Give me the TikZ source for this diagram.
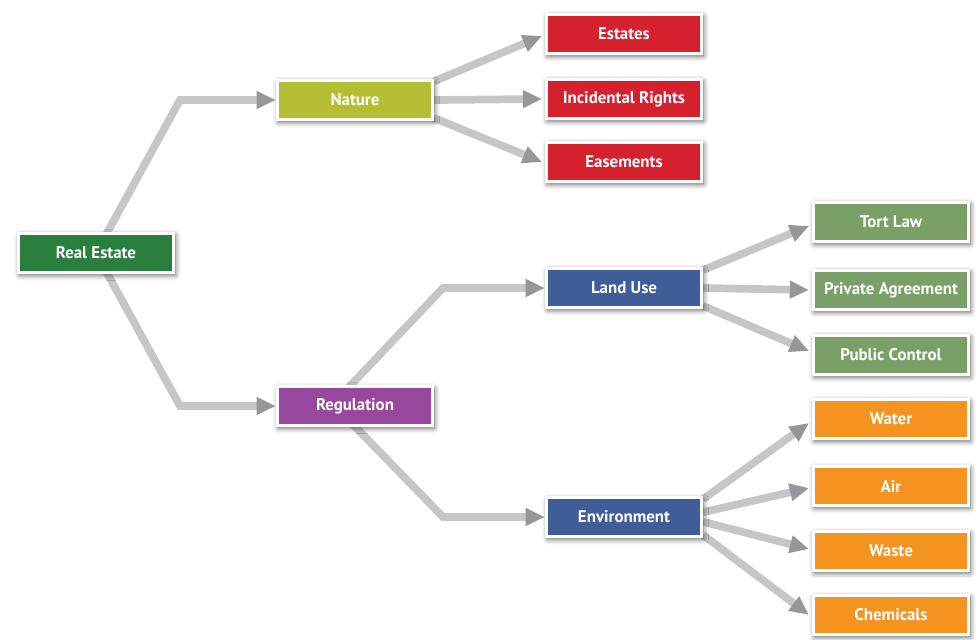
\documentclass[tikz,border=0pt]{standalone}
\usepackage{fontspec}
\setmainfont{PT Sans}
\usetikzlibrary{arrows.meta,backgrounds,shadows.blur}
\definecolor{reGreen}{RGB}{42,127,62}
\definecolor{natOlive}{RGB}{181,189,51}
\definecolor{estRed}{RGB}{213,32,46}
\definecolor{useBlue}{RGB}{63,94,151}
\definecolor{regPurple}{RGB}{152,72,156}
\definecolor{lawGreen}{RGB}{122,160,104}
\definecolor{envOrange}{RGB}{244,147,32}
\definecolor{linkgrey}{RGB}{198,198,200}
\definecolor{tipgrey}{RGB}{150,151,154}

\begin{document}
\begin{tikzpicture}[x=0.025cm,y=-0.025cm]

%
% Styles
%
\tikzstyle{box}  = [rectangle,draw=white,line width=2.2pt,minimum width=3.88cm,minimum height=0.98cm,
                    text=white,font=\fontsize{12}{14}\selectfont\bfseries,
                    blur shadow={shadow xshift=1pt,shadow yshift=-1.5pt,shadow blur radius=4pt,shadow opacity=70}]
\tikzstyle{link} = [-{Triangle[length=0.48cm,width=0.42cm,color=tipgrey]},line width=5.5pt,draw=linkgrey]

\useasboundingbox (0,0) rectangle (979,639);

\node[box,fill=reGreen]   (re)  at (96,253)  {Real Estate};
\node[box,fill=natOlive]  (nat) at (355,100) {Nature};
\node[box,fill=regPurple] (reg) at (355,406) {Regulation};

\node[box,fill=estRed] (est) at (624,34)  {Estates};
\node[box,fill=estRed] (inc) at (624,99)  {Incidental Rights};
\node[box,fill=estRed] (eas) at (624,162) {Easements};

\node[box,fill=useBlue] (lu)  at (624,288) {Land Use};
\node[box,fill=useBlue] (env) at (624,517) {Environment};

\node[box,fill=lawGreen] (tort) at (891,222) {Tort Law};
\node[box,fill=lawGreen] (pa)   at (891,290) {Private Agreement};
\node[box,fill=lawGreen] (pc)   at (891,355) {Public Control};

\node[box,fill=envOrange] (wat) at (891,419) {Water};
\node[box,fill=envOrange] (air) at (891,486) {Air};
\node[box,fill=envOrange] (was) at (891,551) {Waste};
\node[box,fill=envOrange] (chm) at (891,615) {Chemicals};

\begin{pgfonlayer}{background}
% elbows
\draw[link] (re.center) -- (180,100) -- (nat.west);
\draw[link] (re.center) -- (180,406) -- (reg.west);
\draw[link] ([xshift=-0.6cm]reg.center) -- (443,288) -- (lu.west);
\draw[link] ([xshift=-0.5cm]reg.center) -- (443,517) -- (env.west);
% fans
\draw[link] ([yshift=0.47cm]nat.east)  -- ([xshift=-2pt,yshift=-0.05cm]est.west);
\draw[link] (nat.east)                 -- ([xshift=-2pt]inc.west);
\draw[link] ([yshift=-0.45cm]nat.east) -- ([xshift=-2pt]eas.west);
\draw[link] ([yshift=0.45cm]lu.east)   -- ([xshift=-2pt,yshift=-0.1cm]tort.west);
\draw[link] (lu.east)                  -- ([xshift=-2pt]pa.west);
\draw[link] ([yshift=-0.45cm]lu.east)  -- ([xshift=-2pt,yshift=0.1cm]pc.west);
\draw[link] ([yshift=0.45cm]env.east)  -- ([xshift=-2pt,yshift=-0.1cm]wat.west);
\draw[link] ([yshift=0.12cm]env.east)  -- ([xshift=-2pt,yshift=-0.05cm]air.west);
\draw[link] ([yshift=-0.12cm]env.east) -- ([xshift=-2pt,yshift=0.05cm]was.west);
\draw[link] ([yshift=-0.45cm]env.east) -- ([xshift=-2pt]chm.west);
\end{pgfonlayer}

\end{tikzpicture}
\end{document}
